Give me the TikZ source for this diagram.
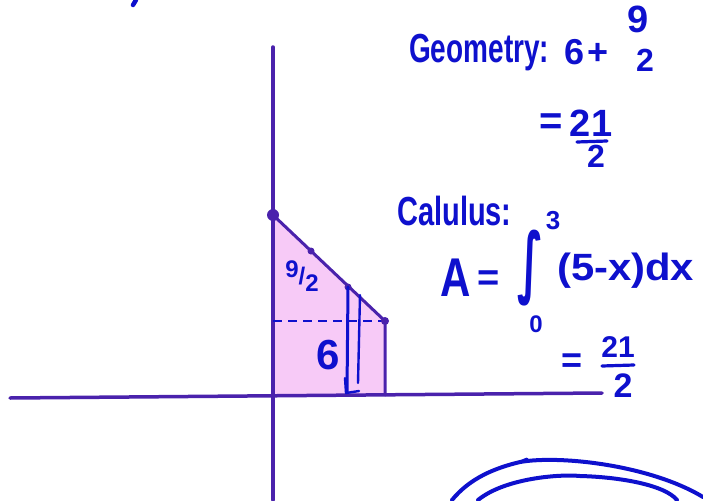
\documentclass[tikz,border=0pt]{standalone}
\usepackage{graphicx}
\usepackage{fontspec}
\setmainfont{Liberation Sans}
\newfontfamily\symfont{DejaVu Sans}
\definecolor{ink}{RGB}{14,16,205}
\definecolor{axiscol}{RGB}{74,34,172}
\definecolor{pinkfill}{RGB}{247,202,247}
\tikzset{
  axisline/.style={draw=axiscol, line width=3.5pt},
  edgeline/.style={draw=axiscol, line width=3pt},
  inkline/.style={draw=ink, line width=3pt},
  hw/.style={text=ink, inner sep=0pt},
  dot/.style={fill=axiscol, draw=none}
}
\newcommand{\fs}[1]{\fontsize{#1}{#1}\selectfont\bfseries}
\begin{document}
\begin{tikzpicture}[x=1pt,y=-1pt,line cap=round,line join=round]
\useasboundingbox (0,0) rectangle (703,500);
% shaded region
\coordinate (P0) at (273,215);
\coordinate (P1) at (311,251);
\coordinate (P2) at (348,287);
\coordinate (P3) at (385,321);
\coordinate (B3) at (385,395);
\coordinate (O)  at (273,395);
\fill[pinkfill] (P0) -- (P3) -- (B3) -- (O) -- cycle;
% axes
\coordinate (yt) at (273,47);
\coordinate (yb) at (273,500);
\coordinate (xl) at (10,398);
\coordinate (xr) at (602,393);
\draw[axisline] (yt) -- (yb);
\draw[axisline] (xl) -- (xr);
% dashed split line
\coordinate (D0) at (273,321);
\draw[draw=ink, line width=2.8pt, dash pattern=on 9pt off 6pt, line cap=butt] (D0) -- (P3);
% edges
\draw[edgeline] (P0) -- (P3) -- (B3);
\fill[dot] (P0) circle (6);
\fill[dot] (P1) circle (3.5);
\fill[dot] (P2) circle (3.5);
\fill[dot] (P3) circle (4);
% strip
\coordinate (S1b) at (347,392);
\coordinate (S2t) at (360,295);
\coordinate (S2b) at (358,383);
\coordinate (S3a) at (345,378);
\coordinate (S3b) at (346,393);
\coordinate (S3c) at (359,391);
\draw[inkline] (P2) -- (S1b);
\draw[inkline, line width=2.4pt] (S2t) -- (S2b);
\draw[inkline, line width=2.4pt] (S3a) -- (S3b) -- (S3c);
% labels in shape
\node[hw, font=\fs{24}] (ninehalf) at (302,276) {\raisebox{7pt}{9}/\raisebox{-7pt}{2}};
\node[hw, font=\fs{42}, anchor=base] (six) at (328,369) {6};
% geometry text
\node[hw, font=\fs{28}, anchor=base west] (geo) at (409,63) {\scalebox{1}[1.45]{Geometry:}};
\node[hw, font=\fs{36}, anchor=base west] (sixplus) at (564,65) {6\kern3pt+};
\node[hw, font=\fs{38}, anchor=base] (gnum) at (638,33) {9};
\node[hw, font=\fs{32}, anchor=base] (gden) at (645,72) {2};
\node[hw, font=\fs{40}] (eq1) at (551,124) {=};
\node[hw, font=\fs{38}, anchor=base] (n1) at (591,136) {21};
\coordinate (b1l) at (577,142);
\coordinate (b1r) at (607,141);
\draw[inkline, line width=3.2pt] (b1l) -- (b1r);
\node[hw, font=\fs{32}, anchor=base] (d1) at (596,167) {2};
% calculus text
\node[hw, font=\fs{29}, anchor=base west] (calc) at (397,225) {\scalebox{1}[1.4]{Calulus:}};
\node[hw, font=\fs{42}, anchor=base] (A) at (456,296) {\scalebox{1}[1.3]{A}};
\node[hw, font=\fs{38}] (eq2) at (489,281) {=};
\node[hw, font=\symfont\bfseries] (int) at (530,268) {\resizebox*{26pt}{76pt}{∫}};
\node[hw, font=\fs{26}] (up) at (553,221) {3};
\node[hw, font=\fs{24}] (lo) at (536,324) {0};
\node[hw, font=\fs{38}, anchor=base west] (integrand) at (557,280) {\scalebox{1.1}[1]{(5-x)dx}};
\node[hw, font=\fs{36}] (eq3) at (572,363) {=};
\node[hw, font=\fs{30}, anchor=base] (n2) at (618,357) {21};
\coordinate (b2l) at (602,366);
\coordinate (b2r) at (634,365);
\draw[inkline, line width=3.2pt] (b2l) -- (b2r);
\node[hw, font=\fs{34}, anchor=base] (d2) at (623,397) {2};
% scribble top-left
\coordinate (m1) at (136,0);
\coordinate (m2) at (133,5);
\draw[inkline, line width=4.5pt] (m1) -- (m2);
% loops bottom right
\coordinate (L0) at (452,500);
\coordinate (L1) at (520,462);
\coordinate (L2) at (703,497);
\draw[inkline, line width=4pt] (L0) .. controls (470,478) and (495,468) .. (L1)
  .. controls (560,455) and (650,465) .. (L2);
\coordinate (Lh) at (527,459);
\draw[inkline, line width=3pt] (L1) -- (Lh);
\coordinate (I0) at (478,500);
\coordinate (I1) at (677,500);
\draw[inkline, line width=4pt] (I0) .. controls (505,478) and (560,474) .. (580,476)
  .. controls (620,477) and (665,485) .. (I1);
\end{tikzpicture}
\end{document}
